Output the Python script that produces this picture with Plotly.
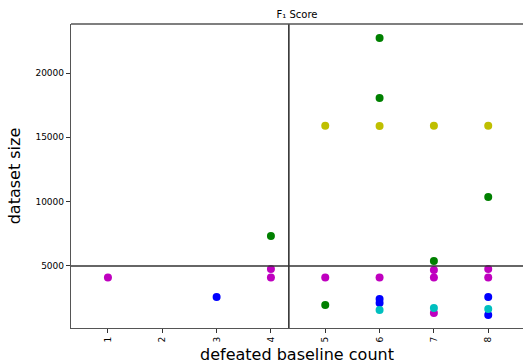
import plotly.graph_objects as go

# data
green_x = [4, 5, 6, 6, 7, 8]
green_y = [7330, 1970, 22730, 18060, 5390, 10370]
yellow_x = [5, 6, 7, 8]
yellow_y = [15900, 15880, 15900, 15900]
magenta_x = [1, 4, 4, 5, 6, 7, 7, 7, 8, 8]
magenta_y = [4100, 4770, 4100, 4100, 4100, 4690, 4100, 1350, 4770, 4100]
blue_x = [3, 6, 6, 8, 8]
blue_y = [2590, 2430, 2120, 2590, 1190]
cyan_x = [6, 7, 8]
cyan_y = [1580, 1730, 1660]
x_ticks = [1, 2, 3, 4, 5, 6, 7, 8]
y_ticks = [5000, 10000, 15000, 20000]
vline_x = 4.33
hline_y = 5000

series = [
    (green_x, green_y, "rgb(0,128,0)"),
    (yellow_x, yellow_y, "rgb(191,191,0)"),
    (magenta_x, magenta_y, "rgb(191,0,191)"),
    (blue_x, blue_y, "rgb(0,0,255)"),
    (cyan_x, cyan_y, "rgb(0,191,191)"),
]

fig = go.Figure()
for xs, ys, c in series:
    fig.add_trace(go.Scatter(x=xs, y=ys, mode="markers",
                             marker=dict(color=c, size=8, line=dict(width=0)),
                             showlegend=False))

fig.add_shape(type="line", xref="x", yref="paper", x0=vline_x, x1=vline_x, y0=0, y1=1,
              line=dict(color="#333", width=1.6))
fig.add_shape(type="line", xref="paper", yref="y", x0=0, x1=1, y0=hline_y, y1=hline_y,
              line=dict(color="#333", width=1.6))
# top spine
fig.add_shape(type="line", xref="paper", yref="paper", x0=0, x1=1, y0=1, y1=1,
              line=dict(color="#555", width=1.3))

fig.update_layout(
    width=523, height=364,
    margin=dict(l=71, r=0, t=24, b=36),
    plot_bgcolor="white", paper_bgcolor="white",
    font=dict(family="DejaVu Sans", color="black", size=9),
    title=dict(text="F\u2081 Score", x=0.568, xanchor="center", y=0.960, yanchor="middle",
               font=dict(size=10, family="DejaVu Sans")),
    xaxis=dict(range=[0.32, 8.64], tickmode="array", tickvals=x_ticks,
               ticktext=[str(t) for t in x_ticks], tickangle=-90,
               showgrid=False, zeroline=False, showline=True, linecolor="#555", linewidth=1.3,
               ticks="outside", ticklen=4, tickcolor="#333",
               title=dict(text="defeated baseline count", font=dict(size=16), standoff=7)),
    yaxis=dict(range=[180, 23810], tickmode="array", tickvals=y_ticks,
               ticktext=[str(t) for t in y_ticks],
               showgrid=False, zeroline=False, showline=True, linecolor="#555", linewidth=1.3,
               ticks="outside", ticklen=4, tickcolor="#333",
               title=dict(text="dataset size", font=dict(size=16), standoff=10)),
)

fig.write_html("out.html")
